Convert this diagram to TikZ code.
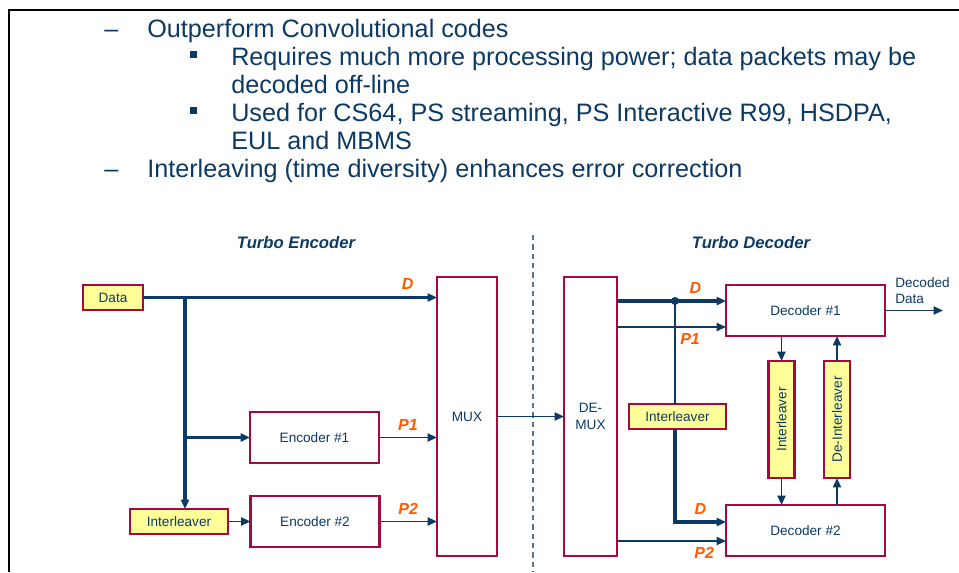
\documentclass[tikz,border=0pt]{standalone}
\usepackage{fontspec}
\setmainfont{Liberation Sans}
\usetikzlibrary{arrows.meta,calc}
\definecolor{navy}{HTML}{0C3A64}
\definecolor{boxred}{HTML}{A6093D}
\definecolor{boxyellow}{HTML}{FFFF99}
\definecolor{sigorange}{HTML}{FF5A00}
\definecolor{sepgray}{HTML}{5A7590}

\begin{document}
\begin{tikzpicture}[x=0.75pt,y=-0.75pt,
    every node/.style={text=navy,font=\fontsize{10.2}{12.5}\selectfont},
    block/.style={draw=boxred,line width=1.8pt,fill=white,inner sep=0pt,outer sep=0pt,align=center},
    yblock/.style={block,fill=boxyellow},
    thinwire/.style={navy,line width=1.4pt,-{Triangle[length=7pt,width=6pt]}},
    thickwire/.style={thinwire,line width=2.6pt},
    sig/.style={text=sigorange,font=\fontsize{12}{14}\selectfont\bfseries\itshape},
    title/.style={font=\fontsize{12.5}{14}\selectfont\bfseries\itshape},
    bodytext/.style={anchor=base west,inner sep=0pt,font=\fontsize{18.9}{22}\selectfont}]
    \useasboundingbox (0,0) rectangle (959,572);

    % frame
    \draw[black,line width=2.2pt] (9,572) -- (9,10) -- (959,10);

    % bullet text
    \node[bodytext] (dasha) at (104,37) {–};
    \node[bodytext] (linea) at (147,37) {Outperform Convolutional codes};
    \fill[navy] (190,51) rectangle (197,58);
    \node[bodytext] (lineb) at (231,65) {Requires much more processing power; data packets may be};
    \node[bodytext] (linec) at (231,93) {decoded off-line};
    \fill[navy] (190,107) rectangle (197,114);
    \node[bodytext] (lined) at (231,121) {Used for CS64, PS streaming, PS Interactive R99, HSDPA,};
    \node[bodytext] (linee) at (231,149) {EUL and MBMS};
    \node[bodytext] (dashb) at (104,177) {–};
    \node[bodytext] (linef) at (147,177) {Interleaving (time diversity) enhances error correction};

    % titles and separator
    \node[title] (enctitle) at (296,243) {Turbo Encoder};
    \node[title] (dectitle) at (751,243) {Turbo Decoder};
    \draw[sepgray,line width=1.1pt,dash pattern=on 4pt off 3pt] (533,235) -- (533,572);

    % encoder side
    \node[yblock,minimum width=45pt,minimum height=18.75pt] (data) at (113,297.5) {Data};
    \node[block,minimum width=96.75pt,minimum height=38.25pt] (enca) at (314.5,437.5) {Encoder \#1};
    \node[block,minimum width=96.75pt,minimum height=38.25pt] (encb) at (315,521.5) {Encoder \#2};
    \node[yblock,minimum width=73.5pt,minimum height=18.75pt] (ilvl) at (179,521.5) {Interleaver};
    \node[block,minimum width=45pt,minimum height=209.25pt] (mux) at (467,416.5) {MUX};

    \coordinate (split) at (185,298);
    \draw[thickwire] (data.east) -- (data.east -| mux.west) node[sig,pos=0.9,above=1pt] {D};
    \draw[thickwire] (split) -- (split |- ilvl.north);
    \draw[thickwire] (split |- enca.west) -- (enca.west);
    \draw[thinwire] (ilvl.east) -- (encb.west);
    \draw[thinwire] (enca.east) -- (enca.east -| mux.west) node[sig,midway,above=1pt] {P1};
    \draw[thinwire] (encb.east) -- (encb.east -| mux.west) node[sig,midway,above=1pt] {P2};

    % decoder side
    \node[block,minimum width=39.75pt,minimum height=209.25pt] (demux) at (590.5,416.5) {DE-\\MUX};
    \node[yblock,minimum width=72.75pt,minimum height=18.75pt] (ilvm) at (677.5,416.5) {Interleaver};
    \node[block,minimum width=119.25pt,minimum height=38.25pt] (deca) at (805.5,310.5) {Decoder \#1};
    \node[block,minimum width=119.25pt,minimum height=38.25pt] (decb) at (805.5,530.5) {Decoder \#2};
    \node[yblock,minimum width=19.5pt,minimum height=87.75pt] (ilvr) at (781.5,419.5) {\rotatebox{90}{Interleaver}};
    \node[yblock,minimum width=19.5pt,minimum height=87.75pt] (deilv) at (837,419.5) {\rotatebox{90}{De-Interleaver}};

    \draw[thinwire] (mux.east) -- (demux.west);

    \coordinate (dsplit) at (675,301);
    \coordinate (dturn) at (675,522);
    \coordinate (pone) at ($(deca.west)+(0,16.5)$);
    \coordinate (ptwo) at ($(decb.west)+(0,10.5)$);
    \coordinate (outend) at (943,310.5);

    \draw[thickwire] (demux.east |- dsplit) -- (dsplit -| deca.west) node[sig,pos=0.72,above=1pt] {D};
    \fill[navy] (dsplit) circle (4);
    \draw[navy,line width=2pt] (dsplit) -- (dsplit |- ilvm.north);
    \draw[thickwire] (dsplit |- ilvm.south) -- (dturn) -- (dturn -| decb.west) node[sig,pos=0.5,above=1pt] {D};
    \draw[thinwire] (demux.east |- pone) -- (pone) node[sig,pos=0.67,below=1pt] {P1};
    \draw[thinwire] (demux.east |- ptwo) -- (ptwo) node[sig,pos=0.8,below=1pt] {P2};

    \draw[thinwire] (deca.south -| ilvr) -- (ilvr.north);
    \draw[thinwire] (ilvr.south) -- (ilvr.south |- decb.north);
    \draw[thinwire] (decb.north -| deilv) -- (deilv.south);
    \draw[thinwire] (deilv.north) -- (deilv.north |- deca.south);

    \draw[thinwire] (deca.east) -- (outend);
    \node[anchor=west,align=left,inner sep=0pt] (outlabel) at (895,290.5) {Decoded\\Data};
\end{tikzpicture}
\end{document}
